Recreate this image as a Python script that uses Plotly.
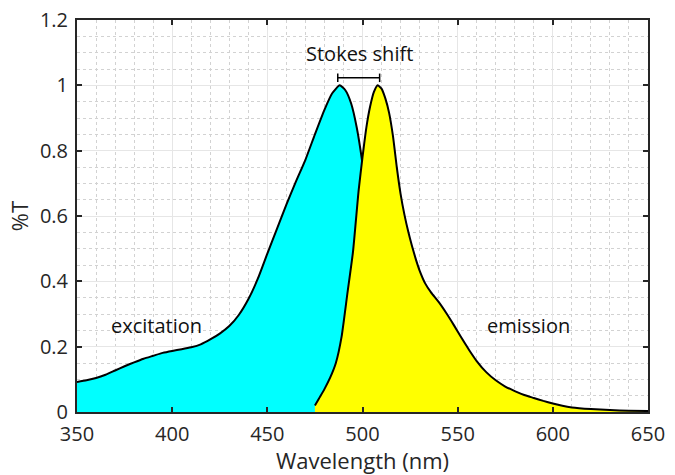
import plotly.graph_objects as go

# Excitation spectrum (nm, relative)
exc_nm = [350, 355, 360, 365, 370, 375, 380, 385, 390, 395, 400, 405, 410, 415, 420,
          425, 430, 435, 440, 445, 450, 455, 460, 465, 470, 475, 480, 484, 488,
          491, 494, 497, 500, 503, 506, 510, 515, 520, 530, 540, 560, 650]
exc_val = [0.092, 0.097, 0.104, 0.114, 0.127, 0.140, 0.152, 0.163, 0.172, 0.181, 0.187,
           0.192, 0.198, 0.207, 0.222, 0.240, 0.263, 0.297, 0.345, 0.408, 0.485, 0.560,
           0.635, 0.705, 0.772, 0.850, 0.925, 0.975, 1.000, 0.985, 0.945, 0.870, 0.760,
           0.620, 0.460, 0.300, 0.170, 0.090, 0.040, 0.020, 0.010, 0.000]

# Emission spectrum (nm, relative)
em_nm = [475, 477, 480, 483, 486, 489, 492, 495, 498, 500, 502, 504, 506, 508, 510,
         512, 514, 516, 518, 520, 522, 524, 526, 528, 530, 533, 536, 540, 544, 548,
         552, 556, 560, 565, 570, 575, 580, 585, 590, 595, 600, 605, 610, 620, 630,
         640, 650]
em_val = [0.020, 0.040, 0.070, 0.105, 0.150, 0.230, 0.360, 0.490, 0.680, 0.780, 0.870,
          0.935, 0.980, 1.000, 0.990, 0.960, 0.915, 0.845, 0.750, 0.668, 0.605, 0.553,
          0.508, 0.468, 0.433, 0.393, 0.366, 0.337, 0.303, 0.266, 0.227, 0.190, 0.156,
          0.122, 0.097, 0.078, 0.064, 0.052, 0.043, 0.034, 0.026, 0.019, 0.014, 0.009,
          0.006, 0.004, 0.003]

x_ticks = [350, 400, 450, 500, 550, 600, 650]
y_ticks = [0, 0.2, 0.4, 0.6, 0.8, 1, 1.2]
y_tick_text = ["0", "0.2", "0.4", "0.6", "0.8", "1", "1.2"]

stokes_x = [487, 509]
stokes_y = 1.023
labels = [("excitation", 392, 0.264), ("emission", 587, 0.264), ("Stokes shift", 498.5, 1.097)]

fig = go.Figure()
fig.add_trace(go.Scatter(x=exc_nm, y=exc_val, mode="lines", fill="tozeroy",
                         fillcolor="#00ffff", line=dict(color="black", width=2, shape="spline", smoothing=0.5),
                         showlegend=False, hoverinfo="skip"))
fig.add_trace(go.Scatter(x=em_nm, y=em_val, mode="lines", fill="tozeroy",
                         fillcolor="#ffff00", line=dict(color="black", width=2, shape="spline", smoothing=0.5),
                         showlegend=False, hoverinfo="skip"))

# Stokes shift bracket
fig.add_shape(type="line", x0=stokes_x[0], x1=stokes_x[1], y0=stokes_y, y1=stokes_y,
              line=dict(color="black", width=1.5))
for sx in stokes_x:
    fig.add_shape(type="line", x0=sx, x1=sx, y0=stokes_y - 0.013, y1=stokes_y + 0.013,
                  line=dict(color="black", width=1.5))

for txt, lx, ly in labels:
    fig.add_annotation(x=lx, y=ly, text=txt, showarrow=False,
                       font=dict(size=20, color="#111111"))

axis_common = dict(showline=True, linecolor="#262626", linewidth=2, mirror="ticks",
                   ticks="inside", ticklen=5, tickwidth=2, tickcolor="#262626",
                   showgrid=True, gridcolor="#e6e6e6", gridwidth=1, zeroline=False,
                   automargin=False, tickfont=dict(size=20, color="#262626"))

fig.update_xaxes(range=[350, 650], tickvals=x_ticks, ticklabelstandoff=3,
                 title=dict(text="Wavelength (nm)", font=dict(size=22, color="#262626"), standoff=3),
                 minor=dict(dtick=10, tick0=350, showgrid=True, gridcolor="#d2d2d2", griddash="dot", ticks=""),
                 **axis_common)
fig.update_yaxes(range=[0, 1.2], tickvals=y_ticks, ticktext=y_tick_text, ticklabelstandoff=3,
                 title=dict(text="%T", font=dict(size=22, color="#262626"), standoff=5),
                 minor=dict(dtick=0.05, tick0=0, showgrid=True, gridcolor="#d2d2d2", griddash="dot", ticks=""),
                 **axis_common)

fig.update_layout(width=675, height=475, margin=dict(l=77, r=27, t=20, b=63),
                  plot_bgcolor="white", paper_bgcolor="white",
                  font=dict(family="Open Sans", color="#262626"))

fig.write_html("out.html")
